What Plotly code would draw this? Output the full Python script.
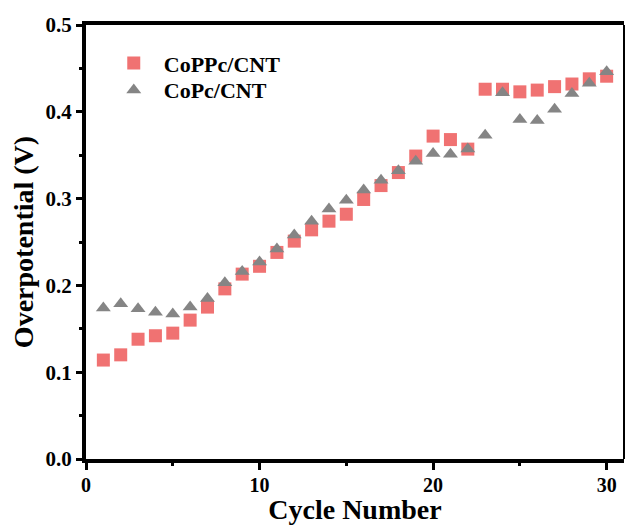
import plotly.graph_objects as go

cycles = list(range(1, 31))
coppc_cnt = [0.114, 0.120, 0.138, 0.142, 0.145, 0.160, 0.175, 0.196, 0.213, 0.222,
             0.238, 0.251, 0.264, 0.274, 0.282, 0.299, 0.315, 0.330, 0.349, 0.372,
             0.368, 0.357, 0.426, 0.426, 0.423, 0.425, 0.429, 0.432, 0.438, 0.441]
copc_cnt = [0.174, 0.179, 0.173, 0.169, 0.167, 0.175, 0.185, 0.203, 0.216, 0.227,
            0.242, 0.258, 0.274, 0.288, 0.298, 0.310, 0.321, 0.332, 0.343, 0.352,
            0.351, 0.357, 0.373, 0.422, 0.391, 0.390, 0.403, 0.421, 0.433, 0.446]
series_names = ["CoPPc/CNT", "CoPc/CNT"]
x_ticks = [0, 10, 20, 30]
y_ticks = [0.0, 0.1, 0.2, 0.3, 0.4, 0.5]

FONT = "Liberation Serif"

fig = go.Figure()
fig.add_trace(go.Scatter(
    x=cycles, y=coppc_cnt, mode="markers", name=series_names[0], legend="legend",
    marker=dict(symbol="square", size=13, color="#F07272", line=dict(width=0)),
))
fig.add_trace(go.Scatter(
    x=cycles, y=copc_cnt, mode="markers", name=series_names[1], legend="legend2",
    marker=dict(symbol="triangle-up", size=13, color="#858585", line=dict(width=0)),
))

leg_common = dict(
    xanchor="left", yanchor="middle",
    bgcolor="rgba(0,0,0,0)",
    font=dict(family=FONT, size=22, color="black", weight="bold"),
    itemwidth=50,
)

fig.update_layout(
    width=625, height=525,
    margin=dict(l=86, r=1, t=25, b=66),
    paper_bgcolor="white", plot_bgcolor="white",
    font=dict(family=FONT, color="black"),
    showlegend=True,
    legend=dict(x=0.033, y=0.912, **leg_common),
    legend2=dict(x=0.033, y=0.850, **leg_common),
    xaxis=dict(
        range=[0, 31], tickvals=x_ticks, ticktext=[str(v) for v in x_ticks],
        showgrid=False, zeroline=False,
        showline=True, linecolor="black", linewidth=4, mirror=True,
        ticks="outside", ticklen=7, tickwidth=3, tickcolor="black",
        ticklabelstandoff=-2,
        minor=dict(tickvals=[5, 15, 25], ticks="outside", ticklen=3, tickwidth=3, tickcolor="black"),
        tickfont=dict(family=FONT, size=20, color="black", weight="bold"),
        title=dict(text="Cycle Number", font=dict(family=FONT, size=28, color="black", weight="bold"), standoff=5),
    ),
    yaxis=dict(
        range=[0, 0.5], tickvals=y_ticks, ticktext=[f"{v:.1f}" for v in y_ticks],
        showgrid=False, zeroline=False,
        showline=True, linecolor="black", linewidth=4,
        ticks="outside", ticklen=6, tickwidth=3, tickcolor="black",
        minor=dict(tickvals=[0.05, 0.15, 0.25, 0.35, 0.45], ticks="outside", ticklen=3, tickwidth=3, tickcolor="black"),
        tickfont=dict(family=FONT, size=21, color="black", weight="bold"),
        title=dict(text="Overpotential (V)", font=dict(family=FONT, size=28, color="black", weight="bold"), standoff=5),
    ),
    shapes=[dict(type="line", xref="paper", yref="paper", x0=1, x1=1, y0=0, y1=1,
                 line=dict(color="black", width=2))],
)

fig.write_html("out.html")
